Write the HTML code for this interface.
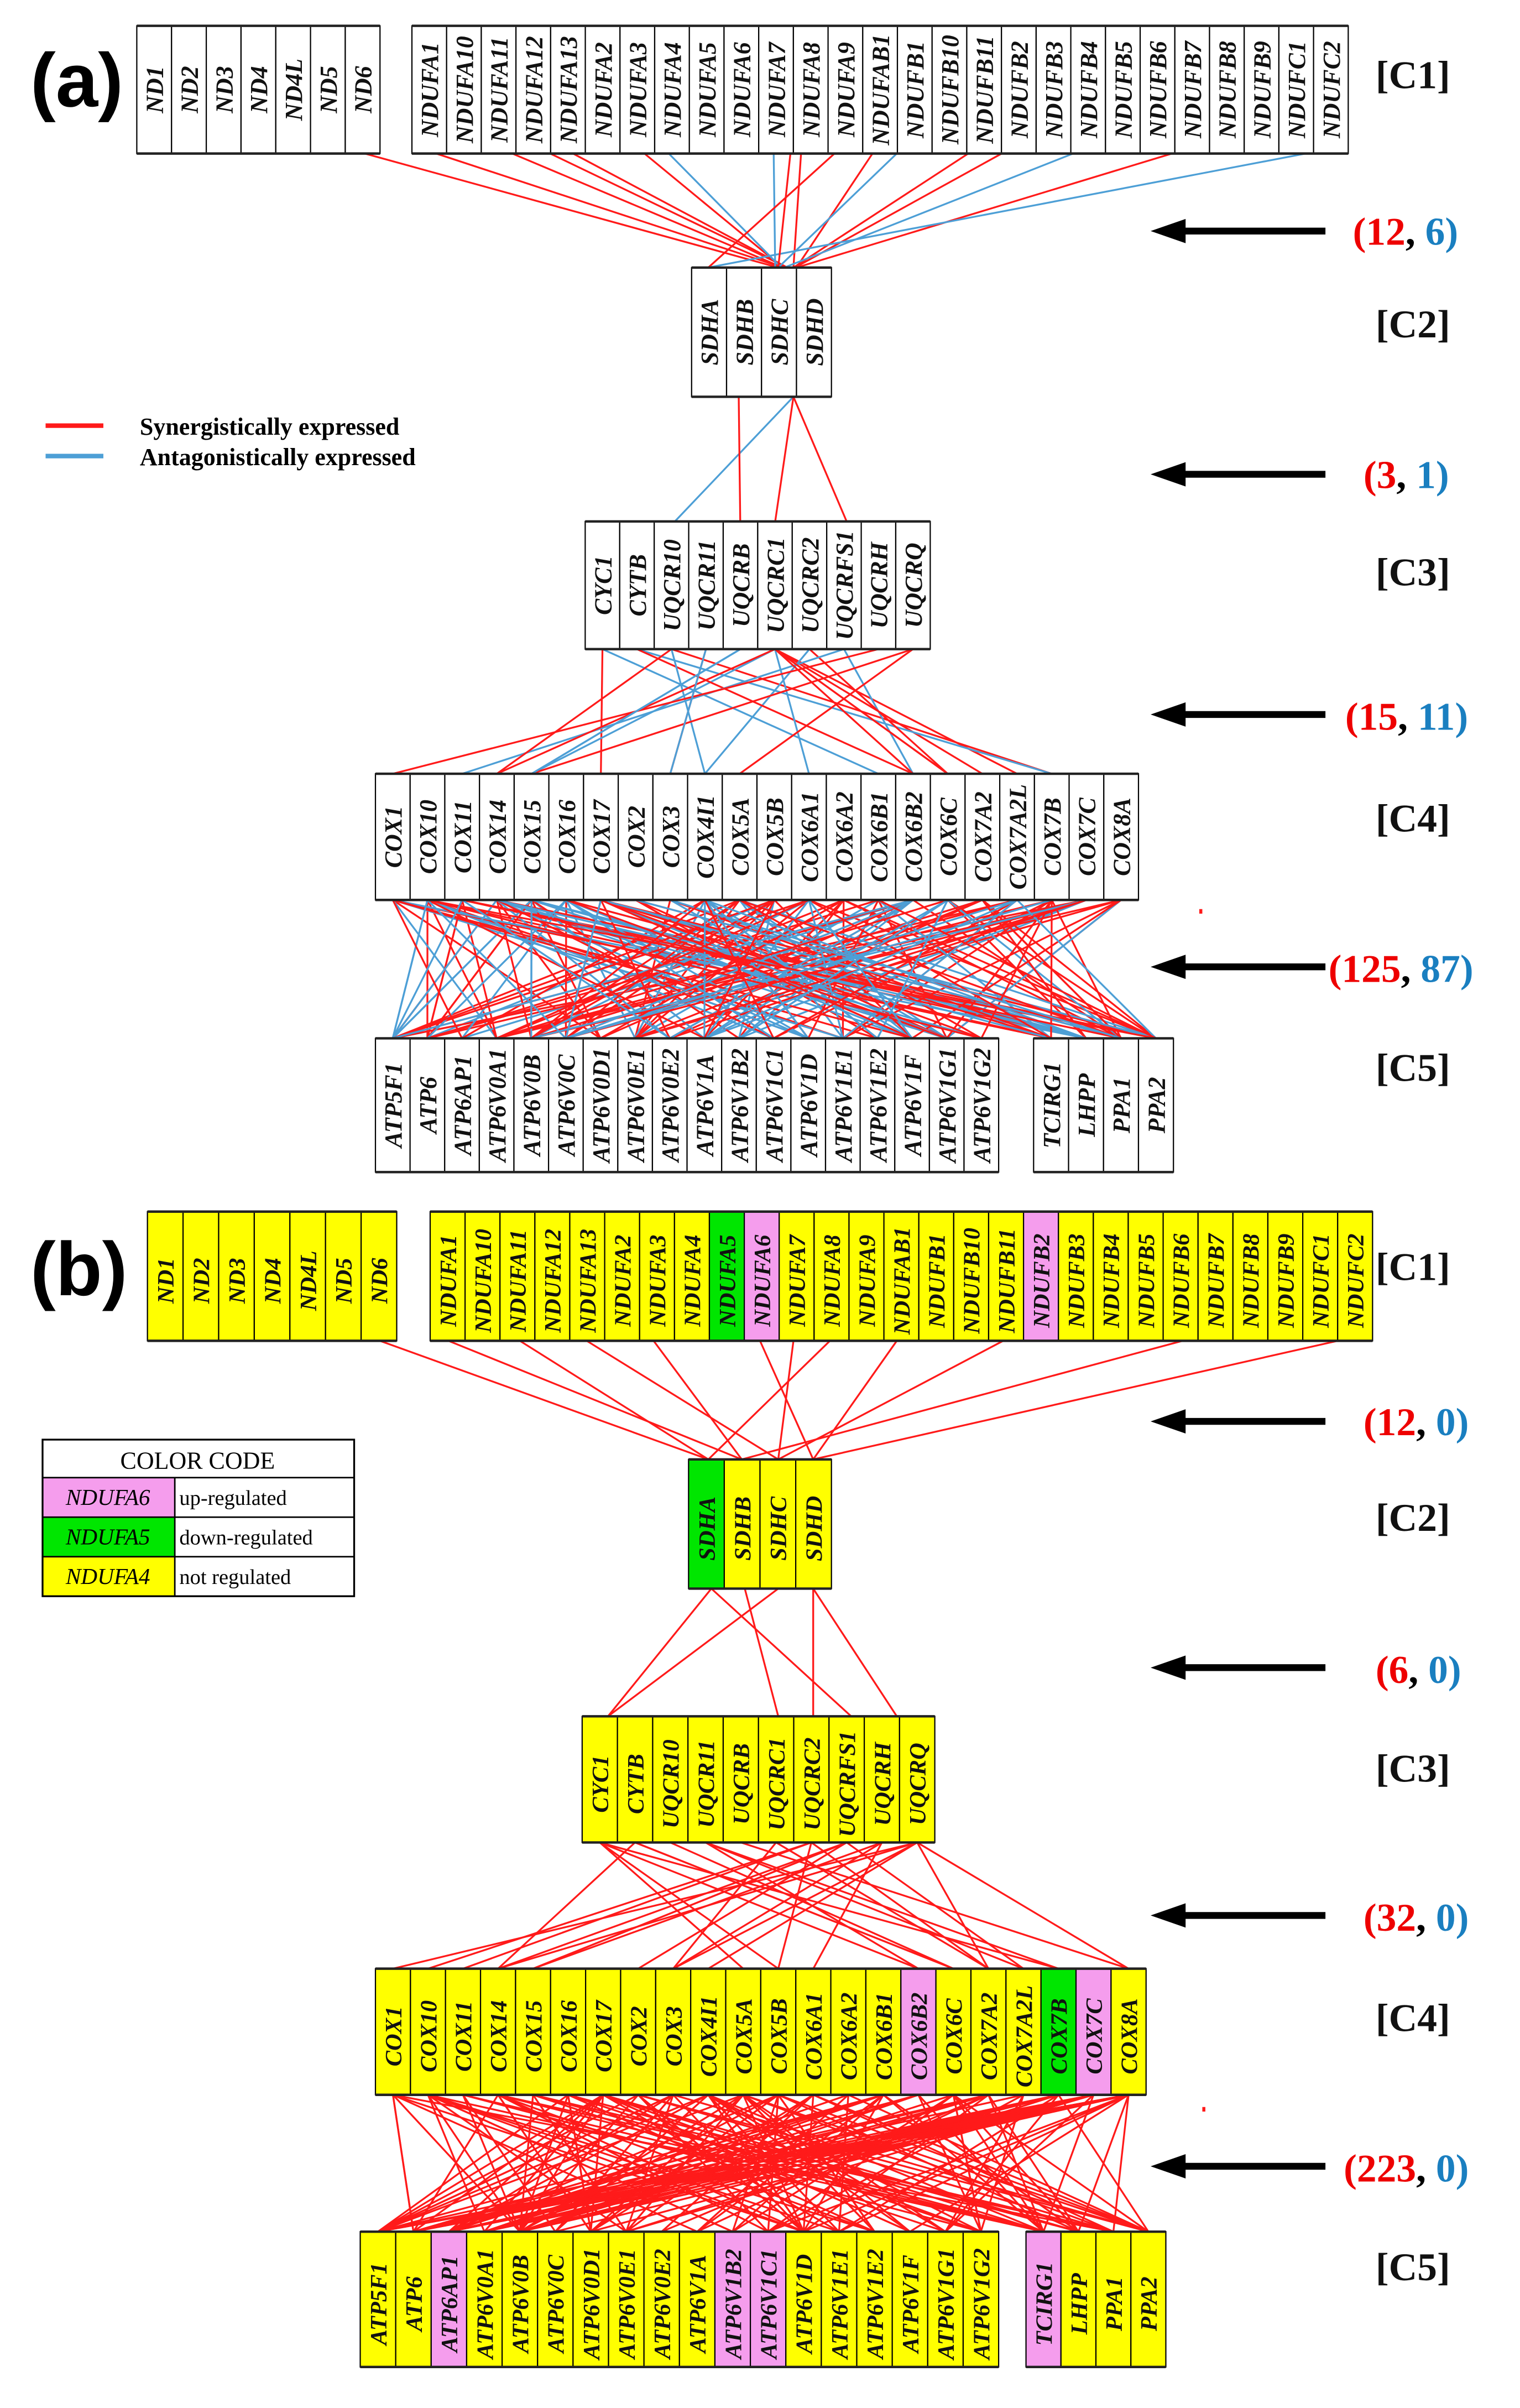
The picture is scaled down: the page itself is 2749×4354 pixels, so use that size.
<!DOCTYPE html>
<html><head><meta charset="utf-8">
<style>
html,body{margin:0;padding:0;background:#fff;}
svg{display:block;}
</style></head>
<body>
<svg id="s" xmlns="http://www.w3.org/2000/svg" width="2749" height="4354" viewBox="0 0 1000 1584" preserveAspectRatio="none"></svg>
<script>
const S=document.getElementById('s');
const NS='http://www.w3.org/2000/svg';
function el(t,a,txt){const e=document.createElementNS(NS,t);for(const k in a)e.setAttribute(k,a[k]);if(txt!==undefined)e.textContent=txt;S.appendChild(e);return e;}
const RED='#ff1a1a',BLUE='#4d9fd6',YEL='#ffff00',PINK='#f59ded',GRN='#00e600';
let seed=12345;function rnd(){seed=(seed*1103515245+12345)%2147483648;return seed/2147483648;}

function cx(b,i){return b.x0+(i+0.5)*(b.x1-b.x0)/b.n;}
function mk(x0,x1,y0,y1,labels,cols){return {x0,x1,y0,y1,labels,n:labels.length,cols:cols||{}};}
function drawBox(b,fill,fs){
  const w=(b.x1-b.x0)/b.n;
  for(let i=0;i<b.n;i++){
    const x=b.x0+i*w;
    el('rect',{x:x,y:b.y0,width:w,height:b.y1-b.y0,fill:b.cols[i]||fill,stroke:'#000','stroke-width':0.8});
    const tx=x+w/2+0.36*fs, ty=(b.y0+b.y1)/2+(fill==='#fff'?0:3);
    el('text',{x:0,y:0,transform:`translate(${tx},${ty}) rotate(-90)`,'text-anchor':'middle','font-family':'Liberation Serif, serif','font-style':'italic','font-weight':'bold','font-size':fs,fill:'#111'},b.labels[i]);
  }
  el('line',{x1:b.x0,y1:b.y0,x2:b.x1,y2:b.y0,stroke:'#222','stroke-width':1.6});
  el('line',{x1:b.x0,y1:b.y1,x2:b.x1,y2:b.y1,stroke:'#222','stroke-width':1.6});
}
function line(x1,y1,x2,y2,c){el('line',{x1,y1,x2,y2,stroke:c,'stroke-width':1.2});}
function randEdges(A,B,B2,nr,nb,bias){
  const tot=[];
  for(let k=0;k<nr+nb;k++){
    let i=Math.floor(rnd()*A.n);
    let tx;
    if(bias && rnd()<bias){i=A.n-1-Math.floor(rnd()*3);tx=cx(B,Math.floor(rnd()*5));}
    else if(B2 && rnd()<0.22){tx=cx(B2,Math.floor(rnd()*B2.n));}
    else tx=cx(B,Math.floor(rnd()*B.n));
    tot.push([cx(A,i),tx,k<nr?RED:BLUE]);
  }
  tot.sort(()=>rnd()-0.5);
  tot.forEach(e=>line(e[0],A.y1,e[1],B.y0,e[2]));
}
function arrow(y){
  el('line',{x1:776,y1:y,x2:872,y2:y,stroke:'#000','stroke-width':4.5});
  el('polygon',{points:`757,${y} 780,${y-8} 780,${y+8}`,fill:'#000'});
}
function count(x,y,r,b){
  const t=el('text',{x:x,y:y,'font-family':'Liberation Serif, serif','font-weight':'bold','font-size':26});
  const parts=[['(','#e00'],[r,'#e00'],[', ','#000'],[b,'#1a7fc0'],[')','#1a7fc0']];
  parts.forEach(p=>{const s=document.createElementNS(NS,'tspan');s.setAttribute('fill',p[1]);s.textContent=p[0];t.appendChild(s);});
}
function clab(y,t){el('text',{x:905,y:y,'font-family':'Liberation Serif, serif','font-weight':'bold','font-size':26,fill:'#111'},t);}

const ND=['ND1','ND2','ND3','ND4','ND4L','ND5','ND6'];
const NDUF=['NDUFA1','NDUFA10','NDUFA11','NDUFA12','NDUFA13','NDUFA2','NDUFA3','NDUFA4','NDUFA5','NDUFA6','NDUFA7','NDUFA8','NDUFA9','NDUFAB1','NDUFB1','NDUFB10','NDUFB11','NDUFB2','NDUFB3','NDUFB4','NDUFB5','NDUFB6','NDUFB7','NDUFB8','NDUFB9','NDUFC1','NDUFC2'];
const SDH=['SDHA','SDHB','SDHC','SDHD'];
const UQ=['CYC1','CYTB','UQCR10','UQCR11','UQCRB','UQCRC1','UQCRC2','UQCRFS1','UQCRH','UQCRQ'];
const COX=['COX1','COX10','COX11','COX14','COX15','COX16','COX17','COX2','COX3','COX4I1','COX5A','COX5B','COX6A1','COX6A2','COX6B1','COX6B2','COX6C','COX7A2','COX7A2L','COX7B','COX7C','COX8A'];
const ATP=['ATP5F1','ATP6','ATP6AP1','ATP6V0A1','ATP6V0B','ATP6V0C','ATP6V0D1','ATP6V0E1','ATP6V0E2','ATP6V1A','ATP6V1B2','ATP6V1C1','ATP6V1D','ATP6V1E1','ATP6V1E2','ATP6V1F','ATP6V1G1','ATP6V1G2'];
const TC=['TCIRG1','LHPP','PPA1','PPA2'];

/* ---------- (a) ---------- */
const a1=mk(90,250,17,101,ND),a1b=mk(271,887,17,101,NDUF),a2=mk(455,547,176,261,SDH),
a3=mk(385,612,343,427,UQ),a4=mk(247,749,509,592,COX),a5=mk(247,657,683,771,ATP),a5b=mk(680,772,683,771,TC);

[[240,512,RED],[287,515,RED],[337,515,RED],[362,518,RED],[377,518,RED],[424,515,RED],[440,514,BLUE],[509,510,BLUE],[527,522,RED],[549,466,RED],[574,524,RED],[590,512,BLUE],[637,522,RED],[659,523,RED],[706,516,BLUE],[771,524,RED],[859,466,BLUE],[520,512,RED]].forEach(e=>line(e[0],101,e[1],176,e[2]));
line(522,261,444,343,BLUE);line(486,261,487,343,RED);line(522,261,510,343,RED);line(522,261,557,343,RED);
seed=777;randEdges(a3,a4,null,15,11);
seed=4242;randEdges(a4,a5,a5b,125,87);

[a1,a1b,a2,a3,a4,a5,a5b].forEach(b=>drawBox(b,'#fff',16));
el('text',{x:20,y:70,'font-family':'Liberation Sans, sans-serif','font-weight':'bold','font-size':50,fill:'#000'},'(a)');
el('line',{x1:30,y1:280,x2:68,y2:280,stroke:RED,'stroke-width':3});
el('line',{x1:30,y1:300,x2:68,y2:300,stroke:BLUE,'stroke-width':3});
el('text',{x:92,y:286,'font-family':'Liberation Serif, serif','font-weight':'bold','font-size':16},'Synergistically expressed');
el('text',{x:92,y:306,'font-family':'Liberation Serif, serif','font-weight':'bold','font-size':16},'Antagonistically expressed');
clab(58,'[C1]');clab(222,'[C2]');clab(385,'[C3]');clab(547,'[C4]');clab(711,'[C5]');
arrow(152);arrow(312);arrow(470);arrow(636);
count(890,161,'12','6');count(897,321,'3','1');count(885,480,'15','11');count(874,646,'125','87');
el('rect',{x:789,y:598,width:2,height:3,fill:RED});

/* ---------- (b) ---------- */
const b1=mk(97,261,797,882,ND),b1b=mk(283,903,797,882,NDUF,{8:GRN,9:PINK,17:PINK}),b2=mk(453,547,960,1045,SDH,{0:GRN}),
b3=mk(383,615,1129,1212,UQ),b4=mk(247,754,1295,1378,COX,{15:PINK,19:GRN,20:PINK}),
b5=mk(237,657,1468,1557,ATP,{2:PINK,10:PINK,11:PINK}),b5b=mk(675,767,1468,1557,TC,{0:PINK});

[[250,466],[295,488],[342,466],[386,512],[430,488],[500,535],[522,512],[546,466],[590,535],[660,512],[778,488],[880,535]].forEach(e=>line(e[0],882,e[1],960,RED));
[[468,400],[468,560],[490,512],[512,400],[535,535],[535,590]].forEach(e=>line(e[0],1045,e[1],1129,RED));
seed=999;randEdges(b3,b4,null,32,0);
seed=31337;randEdges(b4,b5,b5b,223,0,0.28);

[b1,b1b,b2,b3,b4,b5,b5b].forEach(b=>drawBox(b,YEL,15.5));
el('text',{x:20,y:852,'font-family':'Liberation Sans, sans-serif','font-weight':'bold','font-size':50,fill:'#000'},'(b)');
clab(842,'[C1]');clab(1007,'[C2]');clab(1172,'[C3]');clab(1336,'[C4]');clab(1500,'[C5]');
arrow(935);arrow(1097);arrow(1260);arrow(1425);
count(897,944,'12','0');count(905,1107,'6','0');count(897,1270,'32','0');count(884,1435,'223','0');
el('rect',{x:791,y:1386,width:2,height:3,fill:RED});

el('rect',{x:28,y:947,width:205,height:103,fill:'#fff',stroke:'#000','stroke-width':1});
el('rect',{x:28,y:972,width:87,height:26,fill:PINK});
el('rect',{x:28,y:998,width:87,height:26,fill:GRN});
el('rect',{x:28,y:1024,width:87,height:26,fill:YEL});
[972,998,1024].forEach(y=>el('line',{x1:28,y1:y,x2:233,y2:y,stroke:'#000','stroke-width':1}));
el('line',{x1:115,y1:972,x2:115,y2:1050,stroke:'#000','stroke-width':1});
el('rect',{x:28,y:947,width:205,height:103,fill:'none',stroke:'#000','stroke-width':1.2});
el('text',{x:130,y:966,'text-anchor':'middle','font-family':'Liberation Serif, serif','font-size':16},'COLOR CODE');
[['NDUFA6','up-regulated',990],['NDUFA5','down-regulated',1016],['NDUFA4','not regulated',1042]].forEach(r=>{
  el('text',{x:71,y:r[2],'text-anchor':'middle','font-family':'Liberation Serif, serif','font-style':'italic','font-size':15},r[0]);
  el('text',{x:118,y:r[2],'font-family':'Liberation Serif, serif','font-size':14},r[1]);
});
</script>
</body></html>
